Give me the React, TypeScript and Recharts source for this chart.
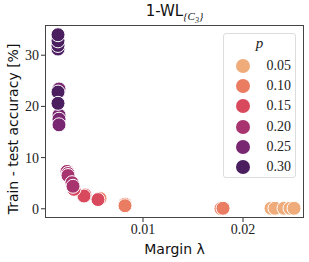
import { ScatterChart, Scatter, XAxis, YAxis } from 'recharts'

const P_LABELS = ['0.05', '0.10', '0.15', '0.20', '0.25', '0.30']
const P_COLORS = ['#efac7a', '#ea7c61', '#d8495e', '#a7346f', '#7a2771', '#4a1e5f']

// margin λ, gap in % (one list per p)
const P05_MARGIN = [0.0228, 0.0232, 0.0241, 0.0247, 0.0251]
const P05_GAP = [0.1, 0.1, 0.1, 0.1, 0.1]
const P10_MARGIN = [0.0178, 0.0180, 0.0082, 0.0082, 0.0057]
const P10_GAP = [0.05, 0.1, 0.9, 0.6, 2.0]
const P15_MARGIN = [0.0055, 0.0042, 0.0041, 0.0031]
const P15_GAP = [1.8, 2.7, 2.5, 3.8]
const P20_MARGIN = [0.0024, 0.0025, 0.0025, 0.0029, 0.0030]
const P20_GAP = [7.3, 6.9, 6.5, 5.1, 4.4]
const P25_MARGIN = [0.0016, 0.0016, 0.0016, 0.0016]
const P25_GAP = [23.4, 18.3, 17.5, 16.4]
const P30_MARGIN = [0.0015, 0.0015, 0.0015, 0.0015, 0.0015, 0.0015]
const P30_GAP = [31.2, 31.9, 32.8, 34.0, 22.8, 20.6]

const X_TICKS = [0.01, 0.02]
const Y_TICKS = [0, 10, 20, 30]

const groups = [
  [P05_MARGIN, P05_GAP],
  [P10_MARGIN, P10_GAP],
  [P15_MARGIN, P15_GAP],
  [P20_MARGIN, P20_GAP],
  [P25_MARGIN, P25_GAP],
  [P30_MARGIN, P30_GAP],
].map(([m, g]) => m.map((x, i) => ({ margin: x, gap: g[i] })))

const serif = '"Liberation Serif", "DejaVu Serif", serif'
const sans = '"DejaVu Sans", sans-serif'

function Dot(props: any) {
  const { cx, cy, fill } = props
  return <circle cx={cx} cy={cy} r={7} fill={fill} stroke="#fff" strokeWidth={1} />
}

export default function App() {
  return (
    <div style={{ position: 'absolute', left: 0, top: 0, width: 309, height: 262, background: '#fff' }}>
      <div
        style={{
          position: 'absolute', left: 0, width: 349, top: 2, textAlign: 'center',
          fontFamily: sans, fontSize: 15, color: '#111',
        }}
      >
        1-WL<sub style={{ fontFamily: serif, fontStyle: 'italic', fontSize: 11 }}>{'{C'}<sub style={{ fontSize: 8 }}>3</sub>{'}'}</sub>
      </div>
      <ScatterChart width={309} height={262} margin={{ top: 25, right: 5, bottom: 0, left: 0 }}>
        <XAxis
          type="number"
          dataKey="margin"
          domain={[0.0002, 0.0261]}
          ticks={X_TICKS}
          tickFormatter={(v) => v.toFixed(2)}
          height={44}
          axisLine={false}
          tickSize={4}
          tickLine={{ stroke: '#333' }}
          tick={{ fill: '#222', fontSize: 14, fontFamily: serif }}
          label={{ value: 'Margin λ', position: 'insideBottom', offset: 8, fill: '#111', fontSize: 14, fontFamily: sans }}
        />
        <YAxis
          type="number"
          dataKey="gap"
          domain={[-1.8, 35.9]}
          ticks={Y_TICKS}
          width={45}
          axisLine={false}
          tickSize={4}
          tickLine={{ stroke: '#333' }}
          tick={{ fill: '#222', fontSize: 14, fontFamily: serif }}
          label={() => (
            <text
              x={13}
              y={129}
              transform="rotate(-90 13 129)"
              textAnchor="middle"
              dominantBaseline="central"
              fill="#111"
              fontSize={14}
              fontFamily={sans}
            >
              Train - test accuracy [%]
            </text>
          )}
        />
        {groups.map((d, i) => (
          <Scatter key={i} data={d} fill={P_COLORS[i]} shape={<Dot />} isAnimationActive={false} />
        ))}
      </ScatterChart>
      <div
        style={{
          position: 'absolute', left: 45, top: 25, width: 259, height: 193,
          border: '1.2px solid #444', boxSizing: 'border-box', pointerEvents: 'none',
        }}
      />
      <div
        style={{
          position: 'absolute', left: 223, top: 33, width: 73, height: 145,
          border: '1px solid #ddd', borderRadius: 3, background: 'rgba(255,255,255,0.8)',
          boxSizing: 'border-box', fontFamily: serif, color: '#222',
        }}
      >
        <div style={{ textAlign: 'center', fontStyle: 'italic', fontSize: 15, marginTop: 1, height: 21 }}>p</div>
        {P_LABELS.map((l, i) => (
          <div key={l} style={{ display: 'flex', alignItems: 'center', height: 20.2 }}>
            <span
              style={{
                display: 'inline-block', width: 14, height: 14, borderRadius: 7,
                background: P_COLORS[i], marginLeft: 12,
              }}
            />
            <span style={{ marginLeft: 'auto', marginRight: 4, fontSize: 14 }}>{l}</span>
          </div>
        ))}
      </div>
    </div>
  )
}
